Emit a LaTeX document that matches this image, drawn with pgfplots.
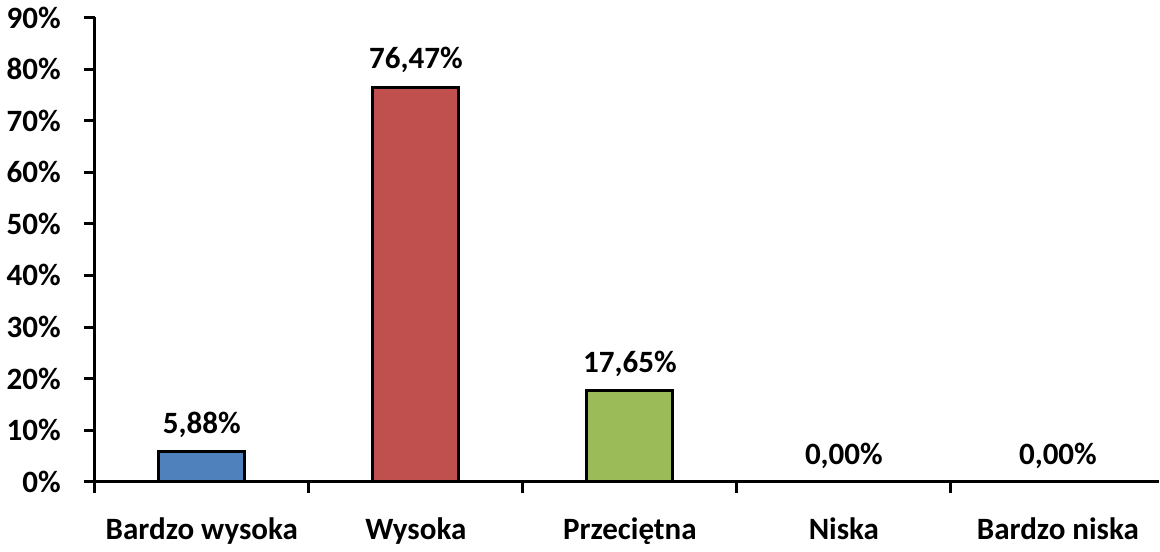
\documentclass[border=0pt]{standalone}
\usepackage{fontspec}
\setmainfont{Carlito}
\usepackage{pgfplots}
\pgfplotsset{compat=1.18}
\definecolor{cblue}{HTML}{4F81BD}
\definecolor{cred}{HTML}{C0504D}
\definecolor{cgreen}{HTML}{9BBB59}
\begin{document}
\begin{tikzpicture}
\begin{axis}[
    ybar, bar width=43pt, bar shift=0pt,
    scale only axis,
    width=531.5pt, height=232pt,
    xmin=-0.5, xmax=4.47,
    ymin=0, ymax=90,
    axis x line*=bottom,
    axis y line*=left,
    axis line style={line width=1.5pt},
    font=\fontsize{15.5}{18}\selectfont\bfseries,
    ytick={0,10,20,30,40,50,60,70,80,90},
    yticklabels={0\%,10\%,20\%,30\%,40\%,50\%,60\%,70\%,80\%,90\%},
    xtick={0,1,2,3,4},
    xticklabels={Bardzo wysoka,Wysoka,Przeciętna,Niska,Bardzo niska},
    tick align=outside,
    major tick length=5.5pt,
    tick style={draw=none},
    xticklabel style={yshift=-9pt},
    yticklabel style={xshift=-8pt},
    nodes near coords,
    point meta=explicit symbolic,
    every node near coord/.append style={font=\fontsize{15.5}{18}\selectfont\bfseries, yshift=3pt},
    clip=false,
    % tick marks: y at every 10%, x at category boundaries
    after end axis/.code={
        \foreach \yy in {0,10,...,90} {\draw[line width=1.5pt] (axis cs:-0.5,\yy) -- ++(-5.5pt,0);}
        \foreach \xx in {-0.5,0.5,1.5,2.5,3.5} {\draw[line width=1.5pt] (axis cs:\xx,0) -- ++(0,-5.5pt);}
    },
]
\addplot[fill=cblue, draw=black, line width=1.5pt] coordinates {(0,5.88) [5,88\%]};
\addplot[fill=cred, draw=black, line width=1.5pt] coordinates {(1,76.47) [76,47\%]};
\addplot[fill=cgreen, draw=black, line width=1.5pt] coordinates {(2,17.65) [17,65\%]};
\addplot[draw=none, fill=none] coordinates {(3,0) [0,00\%] (4,0) [0,00\%]};
\end{axis}
\end{tikzpicture}
\end{document}
